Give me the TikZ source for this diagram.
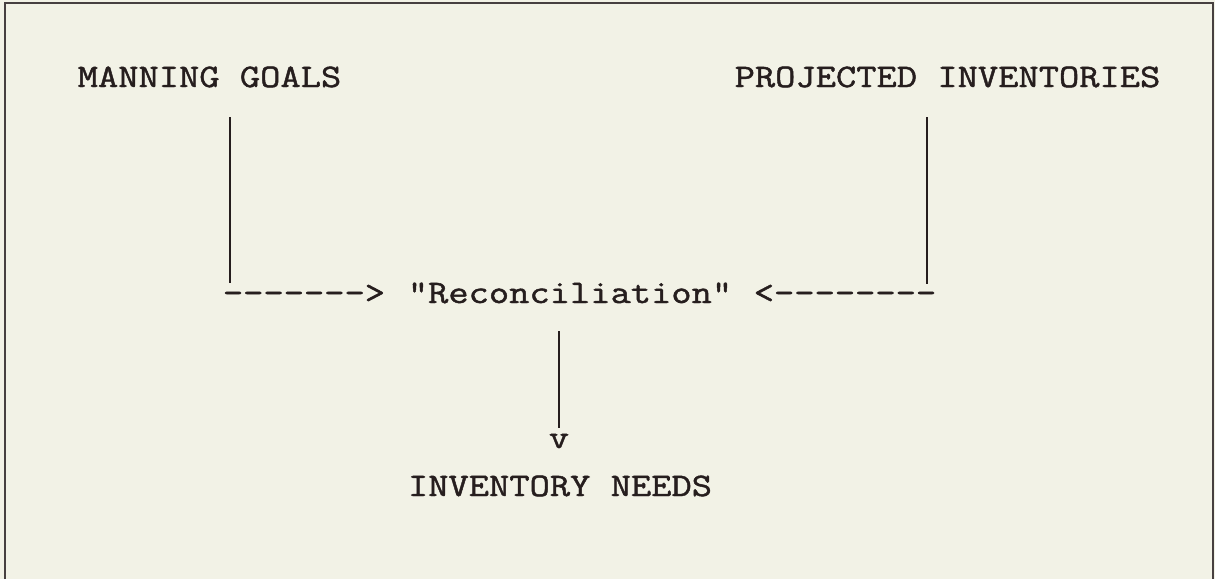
\documentclass[tikz,border=0pt]{standalone}
\usepackage{fontspec}
\setmonofont{Latin Modern Mono}[FakeStretch=1.2,FakeBold=1.4]
\definecolor{paper}{RGB}{242,242,230}
\definecolor{ink}{RGB}{38,30,30}
\begin{document}
\begin{tikzpicture}[x=1pt,y=-1pt,
  txt/.style={inner sep=0pt, anchor=base, text=ink,
    font=\ttfamily\fontsize{32.8}{40}\selectfont},
  rule/.style={draw=ink, line width=1.6pt},
  frame/.style={draw=ink!85, line width=2pt}]
  % page and frame
  \fill[paper] (0,0) rectangle (1215,579);
  \useasboundingbox (0,0) rectangle (1215,579);
  \draw[frame] (5,579) -- (5,3) -- (1213,3) -- (1213,579);

  % typed labels
  \node[txt] (mg)  at (209.5,87)  {MANNING GOALS};
  \node[txt] (pi)  at (947.5,87)  {PROJECTED INVENTORIES};
  \node[txt] (la)  at (304,303)   {------->};
  \node[txt] (rec) at (570,303)   {"Reconciliation"};
  \node[txt] (ra)  at (845,303)   {<--------};
  \node[txt] (v)   at (559,448)   {v};
  \node[txt] (in)  at (560,496)   {INVENTORY NEEDS};

  % ruled connectors
  \coordinate (mgTop) at (230,117);
  \coordinate (mgBot) at (230,283);
  \coordinate (piTop) at (927,117);
  \coordinate (piBot) at (927,284);
  \coordinate (recTop) at (559,331);
  \coordinate (recBot) at (559,428);
  \draw[rule] (mgTop) -- (mgBot);
  \draw[rule] (piTop) -- (piBot);
  \draw[rule] (recTop) -- (recBot);
\end{tikzpicture}
\end{document}
